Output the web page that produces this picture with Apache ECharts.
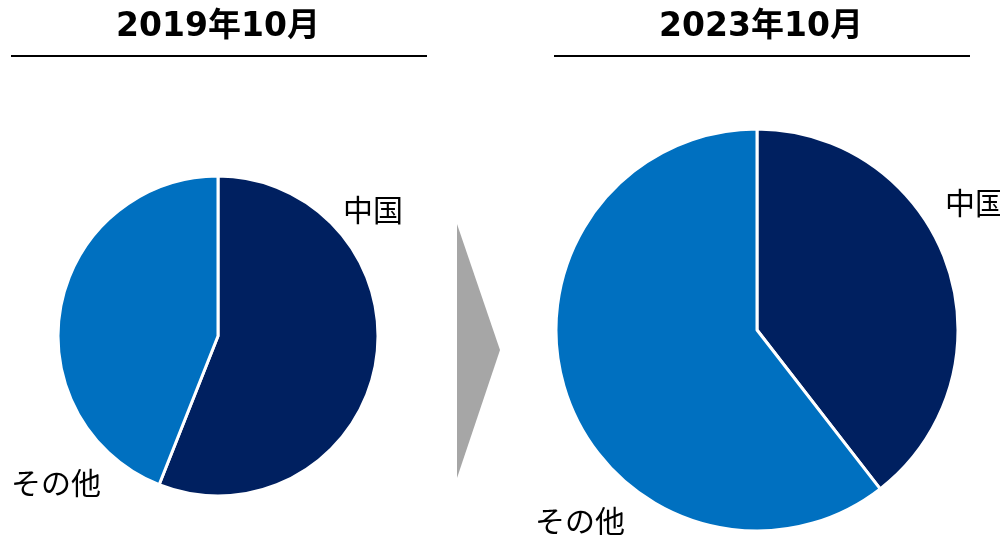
<!DOCTYPE html>
<html>
<head>
<meta charset="utf-8">
<script src="https://cdn.jsdelivr.net/npm/echarts@6/dist/echarts.min.js"></script>
<style>
  html, body { margin: 0; padding: 0; background: #fff; }
  #chart { width: 1000px; height: 535px; }
</style>
</head>
<body>
<div id="chart"></div>
<script>
// Period titles and regional shares (%)
const periods = ['2019年10月', '2023年10月'];
const regions = ['中国', 'その他'];
const share2019 = [56, 44];
const share2023 = [39.5, 60.5];
const colors = ['#002060', '#0070C0'];

const CJK = '"Noto Sans CJK JP", sans-serif';

// Fixed spots for the slice names of each pie
const labelSpots = [
  [[373, 210], [56, 483]],
  [[975, 203], [580, 521]]
];

function pieSeries(values, center, radius, idx) {
  return {
    type: 'pie',
    center: center,
    radius: radius,
    startAngle: 90,
    clockwise: true,
    silent: true,
    animation: false,
    avoidLabelOverlap: false,
    itemStyle: { borderColor: '#fff', borderWidth: 3 },
    label: {
      show: true,
      position: 'inside',
      formatter: '{b}',
      fontFamily: CJK,
      fontSize: 30,
      color: '#000',
      overflow: 'none'
    },
    labelLine: { show: false },
    labelLayout: function (p) {
      const spot = labelSpots[idx][p.dataIndex];
      return { x: spot[0], y: spot[1], align: 'center', verticalAlign: 'middle' };
    },
    data: regions.map((name, i) => ({
      name: name,
      value: values[i],
      itemStyle: { color: colors[i] }
    }))
  };
}

function titleText(text, cx) {
  return {
    type: 'text',
    x: cx,
    y: 27,
    style: {
      text: text,
      fill: '#000',
      fontSize: 33,
      fontWeight: 'bold',
      fontFamily: '"DejaVu Sans", "Noto Sans CJK JP", sans-serif',
      align: 'center',
      verticalAlign: 'middle'
    }
  };
}

function rule(x1, x2) {
  return {
    type: 'line',
    shape: { x1: x1, y1: 56, x2: x2, y2: 56 },
    style: { stroke: '#000', lineWidth: 2 }
  };
}

const chart = echarts.init(document.getElementById('chart'), null, { renderer: 'canvas' });
chart.setOption({
  backgroundColor: '#fff',
  animation: false,
  graphic: [
    titleText(periods[0], 218),
    titleText(periods[1], 761),
    rule(11, 427),
    rule(554, 970),
    {
      type: 'polygon',
      shape: { points: [[457, 224], [500, 350], [457, 478]] },
      style: { fill: '#A6A6A6' }
    }
  ],
  series: [
    pieSeries(share2019, [218, 336], 160, 0),
    pieSeries(share2023, [757, 330], 201, 1)
  ]
});
</script>
</body>
</html>
